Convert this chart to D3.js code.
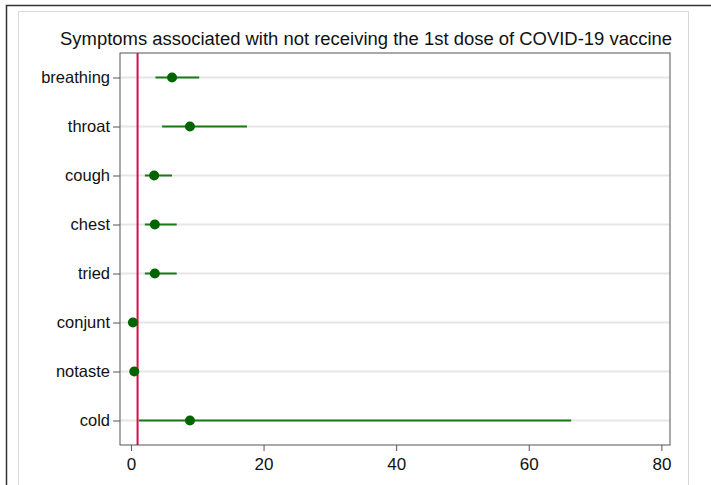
<!DOCTYPE html>
<html>
<head>
<meta charset="utf-8">
<script src="https://cdn.jsdelivr.net/npm/d3@7/dist/d3.min.js"></script>
<style>
  body { margin: 0; background: #fff; }
  svg { display: block; font-family: "Liberation Sans", Arial, sans-serif; }
</style>
</head>
<body>
<svg width="711" height="485"></svg>
<script>
// data (odds ratios with 95% CI)
const symptoms = ["breathing", "throat", "cough", "chest", "tried", "conjunt", "notaste", "cold"];
const estimates = [6.2, 8.9, 3.5, 3.6, 3.6, 0.3, 0.5, 8.9];
const lower = [3.7, 4.7, 2.1, 2.1, 2.1, 0.2, 0.35, 1.2];
const upper = [10.3, 17.5, 6.2, 6.9, 6.9, 0.45, 0.65, 66.4];
const xTicks = [0, 20, 40, 60, 80];
const refValue = 1;
const title = "Symptoms associated with not receiving the 1st dose of COVID-19 vaccine";

const rows = symptoms.map((s, i) => ({ name: s, est: estimates[i], lo: lower[i], hi: upper[i] }));

const svg = d3.select("svg");
const plot = { left: 120, right: 670, top: 53, bottom: 445 };

// outer frames
svg.append("rect").attr("x", 6.5).attr("y", 5.5).attr("width", 720).attr("height", 500)
  .style("fill", "#fff").style("stroke", "#333").style("stroke-width", 1.5);
svg.append("rect").attr("x", 18.5).attr("y", 11.5).attr("width", 670).attr("height", 490)
  .style("fill", "#fff").style("stroke", "#d9d9d9").style("stroke-width", 1);

const x = d3.scaleLinear().domain([-1.65, 81.3]).range([plot.left, plot.right]);
const y = d3.scalePoint().domain(symptoms).range([plot.top, plot.bottom]).padding(0.5);

// gridlines
svg.append("g")
  .selectAll("line")
  .data(symptoms)
  .join("line")
  .attr("x1", plot.left).attr("x2", plot.right)
  .attr("y1", (d) => y(d)).attr("y2", (d) => y(d))
  .style("stroke", "#e6e6e6").style("stroke-width", 2);

// reference line
svg.append("line")
  .attr("x1", x(refValue)).attr("x2", x(refValue))
  .attr("y1", plot.top).attr("y2", plot.bottom)
  .style("stroke", "#dc0a4a").style("stroke-width", 2);

// confidence intervals
svg.append("g")
  .selectAll("line")
  .data(rows)
  .join("line")
  .attr("x1", (d) => x(d.lo)).attr("x2", (d) => x(d.hi))
  .attr("y1", (d) => y(d.name)).attr("y2", (d) => y(d.name))
  .style("stroke", "#1a7a1a").style("stroke-width", 2);

// point estimates
svg.append("g")
  .selectAll("circle")
  .data(rows)
  .join("circle")
  .attr("cx", (d) => x(d.est)).attr("cy", (d) => y(d.name))
  .attr("r", 5)
  .style("fill", "#006400");

// plot frame
svg.append("rect")
  .attr("x", plot.left).attr("y", plot.top)
  .attr("width", plot.right - plot.left).attr("height", plot.bottom - plot.top)
  .style("fill", "none").style("stroke", "#555").style("stroke-width", 1);

// axes
const xAxis = svg.append("g")
  .attr("transform", `translate(0,${plot.bottom})`)
  .call(d3.axisBottom(x).tickValues(xTicks).tickSize(6).tickSizeOuter(0));
const yAxis = svg.append("g")
  .attr("transform", `translate(${plot.left},0)`)
  .call(d3.axisLeft(y).tickSize(7).tickSizeOuter(0));

[xAxis, yAxis].forEach((g) => {
  g.select(".domain").remove();
  g.selectAll(".tick line").style("stroke", "#555");
  g.selectAll("text")
    .style("font-family", "'Liberation Sans', Arial, sans-serif")
    .style("font-size", "16.5px")
    .style("fill", "#111");
});
xAxis.selectAll("text").attr("y", 13).style("font-size", "17px");
yAxis.selectAll("text").attr("x", -10);

// title
svg.append("text")
  .attr("x", 366).attr("y", 45)
  .attr("text-anchor", "middle")
  .attr("textLength", 612)
  .attr("lengthAdjust", "spacingAndGlyphs")
  .style("font-size", "18px")
  .style("fill", "#111")
  .text(title);
</script>
</body>
</html>
